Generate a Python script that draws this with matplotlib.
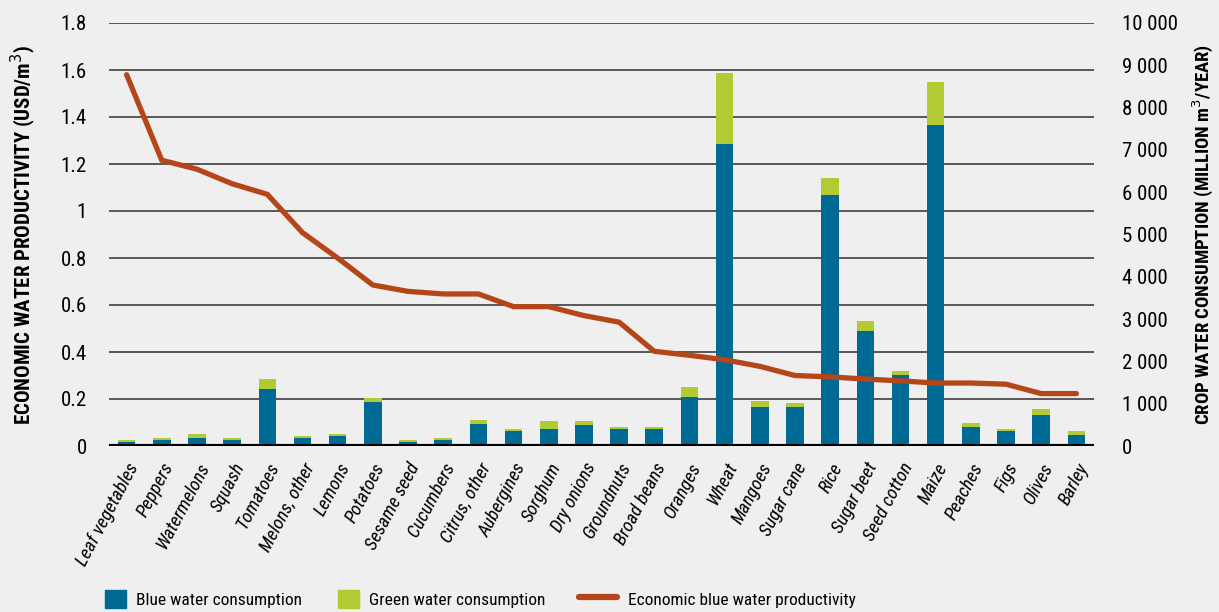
import matplotlib.pyplot as plt
import matplotlib.patches as mpatches
import matplotlib.lines as mlines
from matplotlib import font_manager as fm
from matplotlib.ticker import FuncFormatter

# crops, sorted by economic productivity
crops = ["Leaf vegetables", "Peppers", "Watermelons", "Squash", "Tomatoes",
         "Melons, other", "Lemons", "Potatoes", "Sesame seed", "Cucumbers",
         "Citrus, other", "Aubergines", "Sorghum", "Dry onions", "Groundnuts",
         "Broad beans", "Oranges", "Wheat", "Mangoes", "Sugar cane", "Rice",
         "Sugar beet", "Seed cotton", "Maize", "Peaches", "Figs", "Olives", "Barley"]

# million m3 / year
blue_water = [90, 135, 180, 135, 1340, 180, 230, 1030, 90, 135,
              510, 350, 395, 490, 395, 395, 1150, 7130, 915, 915,
              5930, 2710, 1670, 7600, 440, 350, 725, 250]
green_water = [45, 45, 95, 45, 240, 50, 45, 95, 45, 45,
               95, 45, 190, 95, 45, 45, 235, 1680, 140, 95,
               400, 235, 95, 1000, 95, 45, 140, 95]

# USD / m3
productivity = [1.58, 1.216, 1.178, 1.116, 1.071, 0.908, 0.80, 0.685, 0.658, 0.647,
                0.647, 0.593, 0.593, 0.555, 0.527, 0.403, 0.386, 0.367, 0.339, 0.30,
                0.294, 0.285, 0.277, 0.268, 0.268, 0.263, 0.223, 0.223]

left_ticks = [0, 0.2, 0.4, 0.6, 0.8, 1, 1.2, 1.4, 1.6, 1.8]
right_ticks = list(range(0, 10001, 1000))

BLUE = "#006a94"
GREEN = "#b2cb35"
RUST = "#b5461a"
BG = "#efefef"


# the original uses a condensed font, take the narrowest one we can find
def pick_font():
    entries = fm.fontManager.ttflist
    names = {e.name for e in entries}
    for n in ['Liberation Sans Narrow', 'Roboto Condensed', 'Open Sans Condensed',
              'Noto Sans Condensed', 'DejaVu Sans Condensed']:
        if n in names:
            return n, 'normal', True
    for fam in ['DejaVu Sans', 'Noto Sans', 'Open Sans', 'Roboto']:
        for e in entries:
            if e.name == fam and str(e.stretch) in ('condensed', 'semi-condensed', 'extra-condensed'):
                return fam, 'condensed', True
    return 'DejaVu Sans', 'normal', False


fam, stretch, narrow = pick_font()
plt.rcParams['font.family'] = [fam, 'DejaVu Sans']
plt.rcParams['font.stretch'] = stretch
k = 1.0 if narrow else 0.85  # shrink a wide font a bit

fig = plt.figure(figsize=(12.19, 6.12), dpi=100, facecolor=BG)
W, H = 1219, 612
rect = [109 / W, 1 - 446 / H, (1094 - 109) / W, (446 - 23) / H]

# bottom layer: left scale + gridlines
ax = fig.add_axes(rect)
ax.set_facecolor(BG)
x = list(range(len(crops)))
ax.set_xlim(-0.5, len(crops) - 0.5)
ax.set_ylim(0, 1.8)
ax.set_yticks(left_ticks)
ax.set_yticklabels(["0" if t == 0 else ("1" if t == 1 else f"{t:.1f}") for t in left_ticks])
ax.grid(axis='y', color='#2e2e2e', lw=1.1)
ax.set_axisbelow(True)
for s in ax.spines.values():
    s.set_visible(False)
ax.tick_params(axis='y', length=0, pad=16, labelsize=15 * k)
ax.tick_params(axis='x', length=0)
ax.set_ylabel("ECONOMIC WATER PRODUCTIVITY (USD/m$^3$)", fontsize=15 * k,
              fontweight='bold', labelpad=16)

# bars on right scale
ax2 = ax.twinx()
ax2.patch.set_visible(False)
ax2.set_ylim(0, 10000)
ax2.set_yticks(right_ticks)
ax2.yaxis.set_major_formatter(FuncFormatter(lambda v, p: f"{int(v):,}".replace(",", " ")))
for s in ax2.spines.values():
    s.set_visible(False)
ax2.tick_params(axis='y', length=0, pad=20, labelsize=15 * k)
ax2.set_ylabel("CROP WATER CONSUMPTION (MILLION m$^3$/YEAR)", fontsize=13.5 * k,
               fontweight='bold', labelpad=9)

ax2.bar(x, blue_water, width=0.5, color=BLUE, zorder=2)
ax2.bar(x, green_water, width=0.5, bottom=blue_water, color=GREEN, zorder=2)
ax2.axhline(0, color='black', lw=3, zorder=4)

# line uses the left scale but drawn above the bars
ax2.plot(x, productivity, color=RUST, lw=3.8, solid_capstyle='round',
         solid_joinstyle='miter', transform=ax.transData, zorder=5)

ax.set_xticks(x)
ax.set_xticklabels(crops, rotation=62, ha='right', rotation_mode='anchor',
                   fontsize=13.5 * k, style='italic')
ax.tick_params(axis='x', pad=10)

# legend: three single entries, placed like the original
legend_items = [
    (mpatches.Patch(color=BLUE, label="Blue water consumption"), 105, 1.2),
    (mpatches.Patch(color=GREEN, label="Green water consumption"), 338, 1.2),
    (mlines.Line2D([], [], color=RUST, lw=4.5, solid_capstyle='round',
                   label="Economic blue water productivity"), 579, 2.2),
]
for h, xpos, hl in legend_items:
    leg = fig.legend(handles=[h], loc='center left', bbox_to_anchor=(xpos / W, 1 - 599 / H),
                     frameon=False, fontsize=12.5 * k, handlelength=hl, handleheight=1.2,
                     handletextpad=0.6, borderpad=0, borderaxespad=0)

fig.savefig("out.png", dpi=100, facecolor=BG)
